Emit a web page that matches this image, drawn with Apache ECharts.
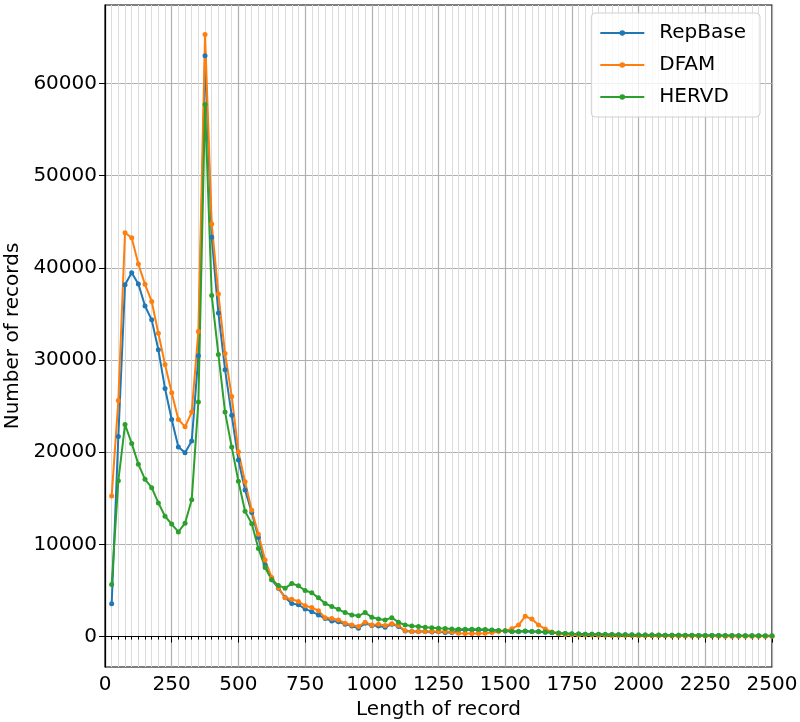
<!DOCTYPE html>
<html>
<head>
<meta charset="utf-8">
<script src="https://cdn.jsdelivr.net/npm/echarts@6/dist/echarts.min.js"></script>
<style>html,body{margin:0;padding:0;background:#fff}#c{width:800px;height:722px}</style>
</head>
<body>
<div id="c"></div>
<script>
var lengths = [25,50,75,100,125,150,175,200,225,250,275,300,325,350,375,400,425,450,475,500,
525,550,575,600,625,650,675,700,725,750,775,800,825,850,875,900,925,950,975,1000,
1025,1050,1075,1100,1125,1150,1175,1200,1225,1250,1275,1300,1325,1350,1375,1400,1425,1450,1475,1500,
1525,1550,1575,1600,1625,1650,1675,1700,1725,1750,1775,1800,1825,1850,1875,1900,1925,1950,1975,2000,
2025,2050,2075,2100,2125,2150,2175,2200,2225,2250,2275,2300,2325,2350,2375,2400,2425,2450,2475,2500];

var repbase = [3550,21700,38150,39450,38250,35850,34350,31100,26900,23550,20550,19950,21200,30450,63000,43300,35100,28950,24000,19150,
15900,13450,10750,7750,6150,5250,4250,3600,3450,3000,2700,2350,1950,1700,1600,1350,1150,900,1450,1200,
1150,1000,1350,1100,600,550,550,550,500,520,430,450,700,720,720,720,700,680,620,600,
540,540,580,540,520,480,430,360,320,290,270,250,240,230,220,210,200,185,180,170,
165,160,150,145,140,135,130,125,120,115,110,105,100,95,90,85,85,80,75,70];

var dfam = [15250,25600,43800,43250,40400,38200,36350,32900,29500,26450,23550,22750,24350,33100,65300,44750,37150,30700,26050,20050,
16800,13700,11100,8300,6400,5300,4200,4050,3800,3350,3150,2800,2050,1950,1800,1450,1250,1100,1550,1250,
1350,1200,1400,1200,620,540,540,540,540,560,540,500,360,330,330,330,360,450,540,620,
850,1250,2200,1900,1250,830,500,300,230,200,180,170,160,150,140,130,120,110,105,100,
95,90,85,80,75,70,65,60,60,55,50,50,45,45,40,40,35,35,30,30];

var hervd = [5650,16900,23000,20950,18700,17050,16150,14500,13050,12200,11350,12300,14850,25450,57700,37000,30600,24350,20550,16850,
13600,12250,9550,7500,6150,5550,5250,5750,5500,5000,4750,4200,3600,3250,2950,2600,2350,2250,2600,2100,
1900,1800,2050,1550,1250,1150,1080,1000,950,900,880,830,800,800,800,800,780,720,650,620,
560,560,600,560,540,500,450,380,340,300,280,260,250,240,230,220,210,200,190,180,
175,170,160,155,150,145,140,135,130,125,120,115,110,105,100,95,90,90,85,80];

var seriesNames = ['RepBase','DFAM','HERVD'];
var seriesColors = ['#1f77b4','#ff7f0e','#2ca02c'];
var yTicks = [0,10000,20000,30000,40000,50000,60000];
var xTicks = [0,250,500,750,1000,1250,1500,1750,2000,2250,2500];

function pairs(vals){ return lengths.map(function(x,i){ return [x, vals[i]]; }); }
function plain(v){ return String(v); }
var allVals = [repbase, dfam, hervd];

var chart = echarts.init(document.getElementById('c'), null, {renderer:'canvas'});
var font = 'DejaVu Sans';
chart.setOption({
  animation:false,
  backgroundColor:'#fff',
  textStyle:{fontFamily:font},
  grid:{left:105, right:28, top:5, bottom:55, show:true, borderColor:'#000', borderWidth:1.2,
        backgroundColor:'transparent', containLabel:false, outerBoundsMode:'none'},
  legend:{
    orient:'vertical', right:40, top:13,
    data:seriesNames,
    itemWidth:44, itemHeight:7, itemGap:12,
    padding:[10,14,10,8],
    backgroundColor:'rgba(255,255,255,0.8)',
    borderColor:'#d0d0d0', borderWidth:1, borderRadius:4,
    textStyle:{fontFamily:font, fontSize:20, color:'#000', padding:[0,0,0,10]}
  },
  xAxis:{
    type:'value', min:0, max:2500, interval:250,
    name:'Length of record', nameLocation:'middle', nameGap:32,
    nameTextStyle:{fontFamily:font, fontSize:20, color:'#000'},
    axisLine:{show:true, lineStyle:{color:'#000', width:1.2}},
    axisTick:{show:true, length:6, inside:false, lineStyle:{color:'#000'}},
    minorTick:{show:true, splitNumber:10, length:3, lineStyle:{color:'#000'}},
    axisLabel:{fontFamily:font, fontSize:20, color:'#000', margin:8,
      customValues: xTicks, formatter: plain},
    splitLine:{show:true, lineStyle:{color:'#b0b0b0', width:1.2}},
    minorSplitLine:{show:true, lineStyle:{color:'#dcdcdc', width:1}}
  },
  yAxis:{
    type:'value', min:-3300, max:68500,
    name:'Number of records', nameLocation:'middle', nameGap:80, nameRotate:90,
    nameTextStyle:{fontFamily:font, fontSize:20, color:'#000'},
    axisLine:{show:true, onZero:false, lineStyle:{color:'#000', width:1.2}},
    axisTick:{show:true, length:6, customValues: yTicks, lineStyle:{color:'#000'}},
    axisLabel:{fontFamily:font, fontSize:20, color:'#000', margin:8, customValues: yTicks, formatter: plain},
    splitLine:{show:true, lineStyle:{color:'#b0b0b0', width:1.2}}
  },
  series: seriesNames.map(function(n,i){
    return {
      name:n, type:'line', data:pairs(allVals[i]),
      symbol:'circle', symbolSize:5, showSymbol:true,
      lineStyle:{width:2, color:seriesColors[i]},
      itemStyle:{color:seriesColors[i]},
      color:seriesColors[i]
    };
  })
});
</script>
</body>
</html>
